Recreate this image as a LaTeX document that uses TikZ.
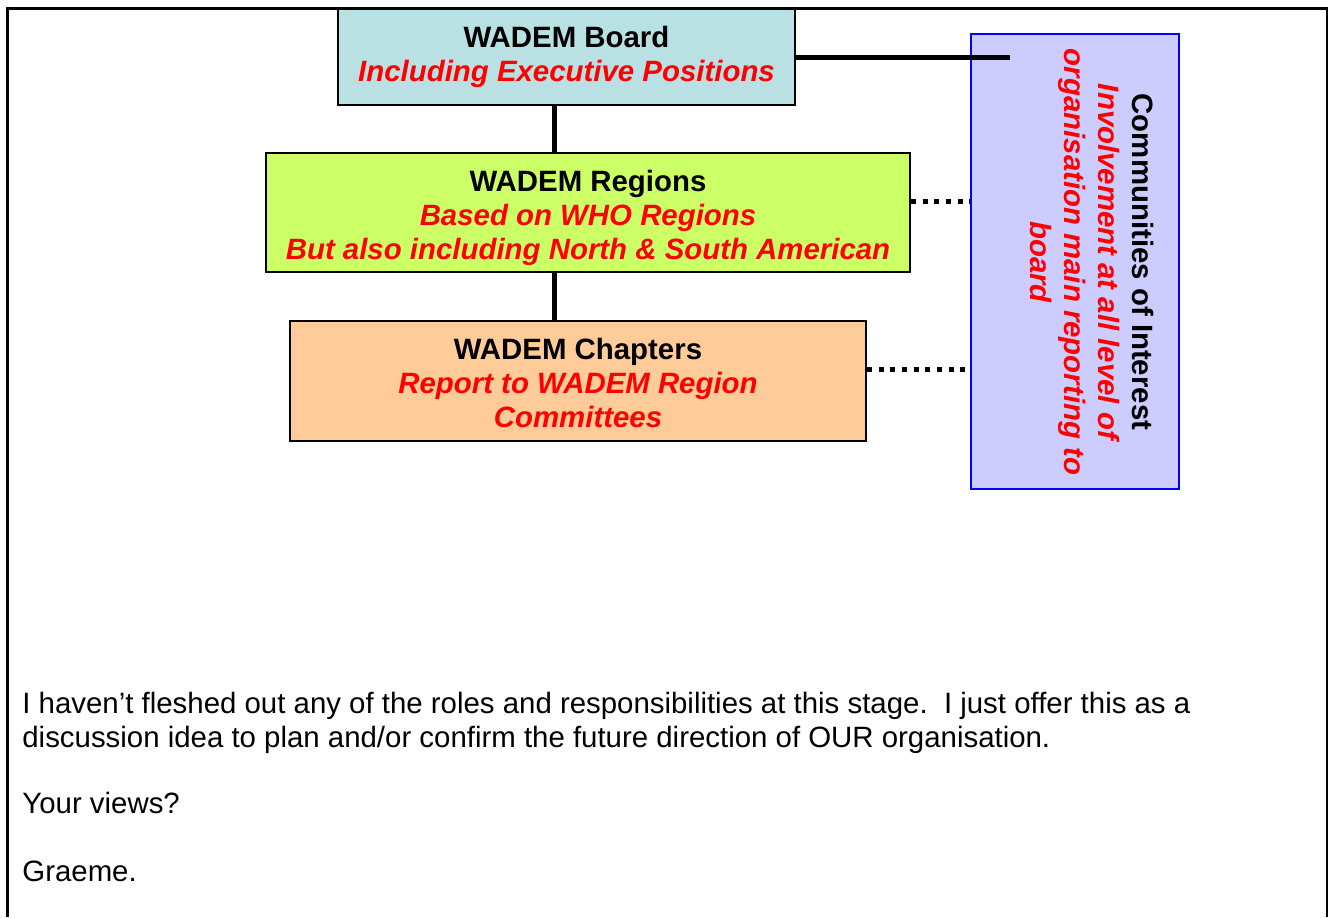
\documentclass[tikz,border=0pt]{standalone}
\usepackage{fontspec}
\setmainfont{Liberation Sans}
\usetikzlibrary{positioning,calc}
\definecolor{BoardFill}{HTML}{B9E0E3}
\definecolor{RegionFill}{HTML}{CCFF66}
\definecolor{ChapterFill}{HTML}{FFCC99}
\definecolor{GroupFill}{HTML}{CCCCFF}
\definecolor{Note}{HTML}{FF0000}
\definecolor{Edge}{HTML}{0000FF}
\newcommand\sub[1]{{\color{Note}\itshape #1}}
\newcommand\hoist[1]{\rule{0pt}{#1}}
\tikzset{
  unit/.style={draw=black,line width=.8pt,align=center,inner sep=0pt,font=\bfseries\fontsize{14.7}{17}\selectfont},
  group/.style={unit,draw=Edge,line width=1pt,fill=GroupFill},
  grouptext/.style={rotate=-90,align=center,inner sep=0pt,font=\bfseries\fontsize{14.7}{17}\selectfont},
  link/.style={line width=2.5pt,draw=black},
  dots/.style={line width=2.5pt,dash pattern=on 2.5pt off 3.35pt},
  frame/.style={line width=1.5pt},
  note/.style={align=left,inner sep=0pt,anchor=base west,font=\fontsize{14.7}{16.75}\selectfont}
}
\begin{document}
\begin{tikzpicture}[x=.5pt,y=-.5pt]
    \useasboundingbox (0,0) rectangle (1328,917);
    \draw[frame] (7,917) -- (7,8) -- (1327,8) -- (1327,917);
    \node[unit,fill=BoardFill,minimum width=228.5pt,minimum height=48pt] (board) at (566.5,57) {WADEM Board\\\sub{Including Executive Positions}};
    \node[unit,fill=RegionFill,minimum width=322pt,minimum height=59.5pt] (regions) at (588,212.5) {\hoist{15.7pt}WADEM Regions\\\sub{Based on WHO Regions}\\\sub{But also including North \& South American}};
    \node[unit,fill=ChapterFill,minimum width=288pt,minimum height=60pt] (chapters) at (578,381) {\hoist{12.7pt}WADEM Chapters\\\sub{Report to WADEM Region}\\\sub{Committees}};
    \node[group,minimum width=104pt,minimum height=227.5pt] (coi) at (1075,261.5) {};
    \node[grouptext] (coitext) at (1092,262) {Communities of Interest\\\sub{Involvement at all level of}\\\sub{organisation main reporting to}\\\sub{board}};
    \coordinate (spine) at (554.5,0); \coordinate (tie) at (1010,57);
    \draw[link] (board.south -| spine) -- (regions.north -| spine);
    \draw[link] (regions.south -| spine) -- (chapters.north -| spine);
    \draw[link] (board.east) -- (tie);
    \draw[dots] ([yshift=5.5pt]regions.east) -- ([yshift=5.5pt]regions.east -| coi.west);
    \draw[dots] ([yshift=5.75pt]chapters.east) -- ([yshift=5.75pt]chapters.east -| coi.west);
    \node[note] (remark) at (22,747) {I haven’t fleshed out any of the roles and responsibilities at this stage.\ \ I just offer this as a\\discussion idea to plan and/or confirm the future direction of OUR organisation.};
    \node[note] (views) at (22,813) {Your views?};
    \node[note] (sign) at (22,881) {Graeme.};
  \end{tikzpicture}
\end{document}
